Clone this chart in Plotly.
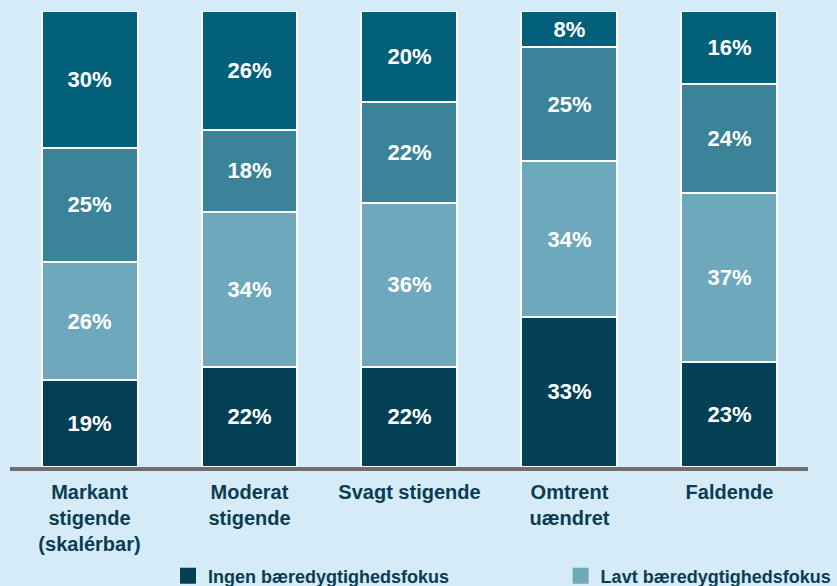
import plotly.graph_objects as go

# categories and series (percent of respondents)
categories = ["Markant<br>stigende<br>(skalérbar)", "Moderat<br>stigende", "Svagt stigende",
              "Omtrent<br>uændret", "Faldende"]
ingen = [19, 22, 22, 33, 23]
lavt = [26, 34, 36, 34, 37]
middel = [25, 18, 22, 25, 24]
hoejt = [30, 26, 20, 8, 16]

series = [
    ("Ingen bæredygtighedsfokus", ingen, "#033f55", "legend"),
    ("Lavt bæredygtighedsfokus", lavt, "#6ea8bd", "legend2"),
    ("Middel bæredygtighedsfokus", middel, "#3a8399", None),
    ("Højt bæredygtighedsfokus", hoejt, "#03607a", None),
]

BG = "#d6ebf8"
TXT = "#0a3d52"
FONT = "Liberation Sans, Arial"

fig = go.Figure()
for name, vals, col, leg in series:
    fig.add_trace(go.Bar(
        x=list(range(len(categories))), y=vals, name=name,
        marker=dict(color=col, line=dict(color="white", width=2)),
        width=0.6, showlegend=False,
        text=[f"{v}%" for v in vals], textposition="inside",
        insidetextanchor="middle",
        textfont=dict(family=FONT, size=22, color="white"),
        texttemplate="<b>%{text}</b>",
    ))
    if leg:
        # legend-only entry with a bigger square swatch
        fig.add_trace(go.Scatter(
            x=[None], y=[None], mode="markers", name=f"<b>{name}</b>",
            marker=dict(symbol="square", size=19, color=col),
            legend=leg, showlegend=True,
        ))

leg_style = dict(orientation="h", y=-0.239, yanchor="middle", xanchor="left",
                 font=dict(family=FONT, size=18, color=TXT), bgcolor="rgba(0,0,0,0)")

fig.update_layout(
    barmode="stack", width=837, height=586,
    paper_bgcolor=BG, plot_bgcolor=BG,
    margin=dict(l=10, r=29, t=11, b=119, autoexpand=False),
    font=dict(family=FONT, color=TXT),
    uniformtext=dict(minsize=8, mode="show"),
    legend=dict(x=0.198, **leg_style),
    legend2=dict(x=0.690, **leg_style),
)
fig.update_xaxes(
    tickvals=list(range(len(categories))),
    ticktext=[f"<b>{c}</b>" for c in categories],
    range=[-0.497, 4.491], showgrid=False, zeroline=False,
    showline=True, linecolor="#6e6e6e", linewidth=4,
    ticks="", ticklabelstandoff=4, tickfont=dict(family=FONT, size=20, color=TXT),
)
fig.update_yaxes(range=[0, 100], visible=False)

fig.write_html("out.html", config={"displayModeBar": False},
               post_script="document.body.style.margin='0';")
